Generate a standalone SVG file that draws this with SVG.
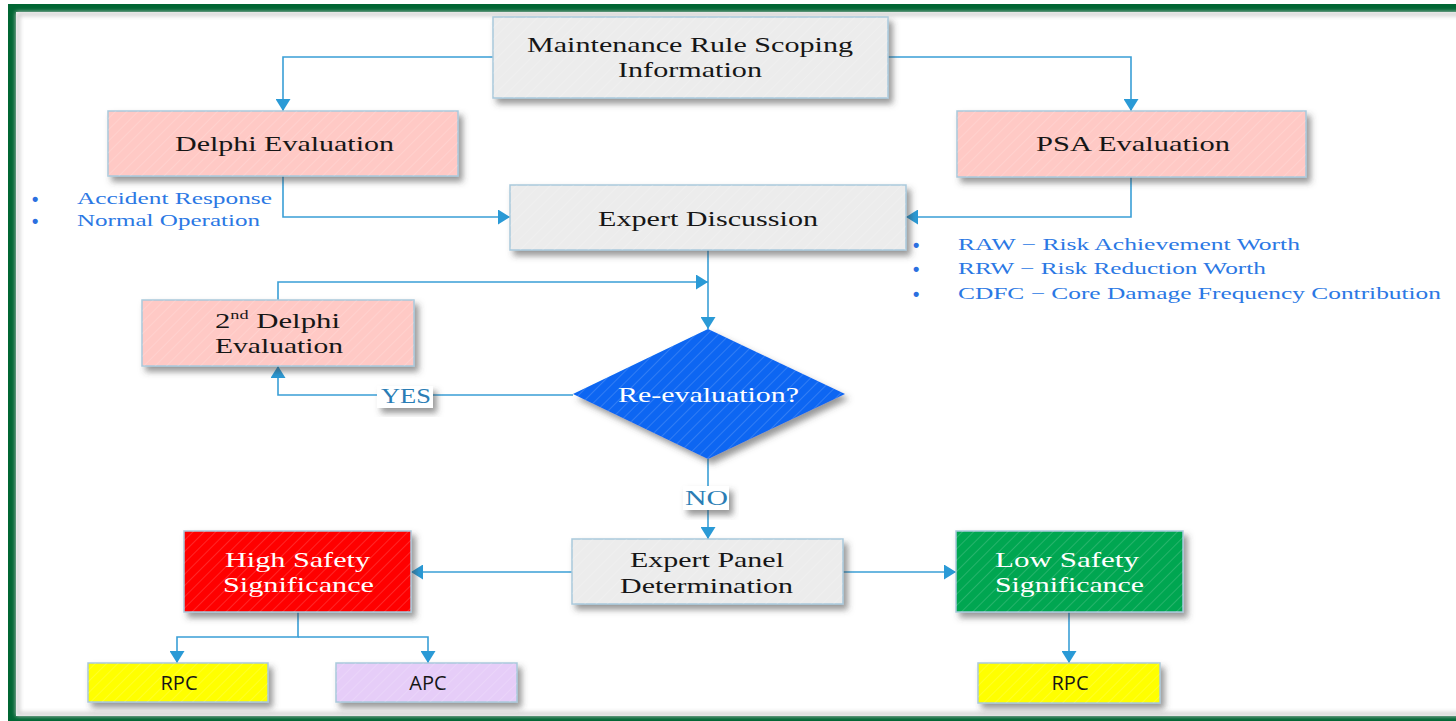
<svg xmlns="http://www.w3.org/2000/svg" width="1456" height="721" viewBox="0 0 1456 721">
<defs>
<style>
.lbl{font-family:"Liberation Serif","Times New Roman",serif;font-size:22px;fill:#161616}
.wlbl{font-family:"Liberation Serif","Times New Roman",serif;font-size:22px;fill:#ffffff}
.bul{font-family:"Liberation Serif","Times New Roman",serif;font-size:17px;fill:#2b78e4}
.dot{font-family:"Liberation Sans",Arial,sans-serif;font-size:18px;font-weight:bold;fill:#2b6fe0}
.yn{font-family:"Liberation Serif","Times New Roman",serif;font-size:21px;fill:#2a7db5}
.sans{font-family:"Open Sans","DejaVu Sans",sans-serif;font-size:20px;fill:#161616}
.conn{fill:none;stroke:#3a9fd6;stroke-width:1.6}
.box{stroke:#a9c9dc;stroke-width:1.5}
</style>
<filter id="sh" x="-10%" y="-20%" width="130%" height="160%">
<feDropShadow dx="4" dy="5" stdDeviation="3" flood-color="#444" flood-opacity="0.55"/>
</filter>
<filter id="blur"><feGaussianBlur stdDeviation="2"/></filter>
<pattern id="hatch" width="8" height="8" patternUnits="userSpaceOnUse" patternTransform="rotate(45)">
<line x1="0" y1="0" x2="0" y2="8" stroke="#ffffff" stroke-width="1.5" stroke-opacity="0.2"/>
</pattern>
<marker id="arr" markerUnits="userSpaceOnUse" markerWidth="14" markerHeight="15" refX="12" refY="7.5" orient="auto">
<path d="M0,0 L12,7.5 L0,15 z" fill="#2a9ad6"/>
</marker>
</defs>
<rect x="0" y="0" width="1456" height="721" fill="#ffffff"/>
<rect x="8" y="4" width="1448" height="717" fill="#006633"/>
<rect x="16" y="12" width="1440" height="704" fill="#ffffff"/>
<rect x="18" y="14" width="1450" height="700" fill="none" stroke="#cfcfcf" stroke-width="4" filter="url(#blur)"/>

<g id="connectors">
<path class="conn" d="M493,57 H283 V111" marker-end="url(#arr)"/>
<path class="conn" d="M888,57 H1131 V111" marker-end="url(#arr)"/>
<path class="conn" d="M283,176 V217 H510" marker-end="url(#arr)"/>
<path class="conn" d="M1131,177 V217 H906" marker-end="url(#arr)"/>
<path class="conn" d="M708,250 V329" marker-end="url(#arr)"/>
<path class="conn" d="M278,300 V282 H708" marker-end="url(#arr)"/>
<path class="conn" d="M573,395 H278 V366" marker-end="url(#arr)"/>
<path class="conn" d="M708,459 V539" marker-end="url(#arr)"/>
<path class="conn" d="M572,572 H411" marker-end="url(#arr)"/>
<path class="conn" d="M843,572 H956" marker-end="url(#arr)"/>
<path class="conn" d="M298,612 V637 H177 V663" marker-end="url(#arr)"/>
<path class="conn" d="M298,637 H428 V663" marker-end="url(#arr)"/>
<path class="conn" d="M1069,612 V663" marker-end="url(#arr)"/>
<rect x="377" y="386" width="56" height="22" fill="#ffffff" filter="url(#sh)"/>
<text class="yn" x="381" y="403" textLength="50" lengthAdjust="spacingAndGlyphs">YES</text>
<rect x="683" y="486" width="46" height="24" fill="#ffffff" filter="url(#sh)"/>
<text class="yn" x="685" y="505" textLength="43" lengthAdjust="spacingAndGlyphs">NO</text>
</g>

<g id="maintenance">
<rect class="box" x="493" y="17" width="395" height="81" fill="#ececec" filter="url(#sh)"/>
<rect x="493" y="17" width="395" height="81" fill="url(#hatch)"/>
<text class="lbl" x="527" y="52" textLength="326" lengthAdjust="spacingAndGlyphs">Maintenance Rule Scoping</text>
<text class="lbl" x="618" y="77" textLength="144" lengthAdjust="spacingAndGlyphs">Information</text>
</g>

<g id="delphi">
<rect class="box" x="108" y="111" width="350" height="65" fill="#ffc9c5" filter="url(#sh)"/>
<rect x="108" y="111" width="350" height="65" fill="url(#hatch)"/>
<text class="lbl" x="175" y="151" textLength="219" lengthAdjust="spacingAndGlyphs">Delphi Evaluation</text>
</g>

<g id="psa">
<rect class="box" x="957" y="111" width="349" height="66" fill="#ffc9c5" filter="url(#sh)"/>
<rect x="957" y="111" width="349" height="66" fill="url(#hatch)"/>
<text class="lbl" x="1036" y="151" textLength="194" lengthAdjust="spacingAndGlyphs">PSA Evaluation</text>
</g>

<g id="delphi-notes">
<text class="dot" x="32" y="205">•</text>
<text class="bul" x="77" y="204" textLength="195" lengthAdjust="spacingAndGlyphs">Accident Response</text>
<text class="dot" x="32" y="227">•</text>
<text class="bul" x="77" y="226" textLength="183" lengthAdjust="spacingAndGlyphs">Normal Operation</text>
</g>

<g id="expert-discussion">
<rect class="box" x="510" y="185" width="396" height="65" fill="#ececec" filter="url(#sh)"/>
<rect x="510" y="185" width="396" height="65" fill="url(#hatch)"/>
<text class="lbl" x="598" y="226" textLength="220" lengthAdjust="spacingAndGlyphs">Expert Discussion</text>
</g>

<g id="psa-notes">
<text class="dot" x="913" y="251">•</text>
<text class="bul" x="958" y="250" textLength="342" lengthAdjust="spacingAndGlyphs">RAW − Risk Achievement Worth</text>
<text class="dot" x="913" y="275">•</text>
<text class="bul" x="958" y="274" textLength="308" lengthAdjust="spacingAndGlyphs">RRW − Risk Reduction Worth</text>
<text class="dot" x="913" y="300">•</text>
<text class="bul" x="958" y="299" textLength="483" lengthAdjust="spacingAndGlyphs">CDFC −  Core Damage Frequency Contribution</text>
</g>

<g id="second-delphi">
<rect class="box" x="142" y="300" width="272" height="66" fill="#ffc9c5" filter="url(#sh)"/>
<rect x="142" y="300" width="272" height="66" fill="url(#hatch)"/>
<text class="lbl" x="215" y="328" textLength="125" lengthAdjust="spacingAndGlyphs">2<tspan font-size="13" dy="-9">nd</tspan><tspan dy="9"> Delphi</tspan></text>
<text class="lbl" x="215" y="353" textLength="128" lengthAdjust="spacingAndGlyphs">Evaluation</text>
</g>

<g id="reevaluation">
<polygon points="708,329 845,394 708,459 573,394" fill="#0866f2" filter="url(#sh)"/>
<polygon points="708,329 845,394 708,459 573,394" fill="url(#hatch)"/>
<text class="wlbl" x="618" y="402" textLength="181" lengthAdjust="spacingAndGlyphs">Re-evaluation?</text>
</g>

<g id="expert-panel">
<rect class="box" x="572" y="539" width="271" height="65" fill="#ececec" filter="url(#sh)"/>
<rect x="572" y="539" width="271" height="65" fill="url(#hatch)"/>
<text class="lbl" x="630" y="567" textLength="154" lengthAdjust="spacingAndGlyphs">Expert Panel</text>
<text class="lbl" x="620" y="593" textLength="173" lengthAdjust="spacingAndGlyphs">Determination</text>
</g>

<g id="high-safety">
<rect class="box" x="184" y="531" width="227" height="81" fill="#ff0000" filter="url(#sh)"/>
<rect x="184" y="531" width="227" height="81" fill="url(#hatch)"/>
<text class="wlbl" x="225" y="567" textLength="145" lengthAdjust="spacingAndGlyphs">High Safety</text>
<text class="wlbl" x="223" y="592" textLength="151" lengthAdjust="spacingAndGlyphs">Significance</text>
</g>

<g id="low-safety">
<rect class="box" x="956" y="531" width="227" height="81" fill="#00a651" filter="url(#sh)"/>
<rect x="956" y="531" width="227" height="81" fill="url(#hatch)"/>
<text class="wlbl" x="995" y="567" textLength="144" lengthAdjust="spacingAndGlyphs">Low Safety</text>
<text class="wlbl" x="995" y="592" textLength="149" lengthAdjust="spacingAndGlyphs">Significance</text>
</g>

<g id="rpc-high">
<rect class="box" x="88" y="663" width="180" height="39" fill="#ffff00" filter="url(#sh)"/>
<rect x="88" y="663" width="180" height="39" fill="url(#hatch)"/>
<text class="sans" x="179" y="690" text-anchor="middle">RPC</text>
</g>

<g id="apc">
<rect class="box" x="336" y="663" width="181" height="39" fill="#e6cdf8" filter="url(#sh)"/>
<rect x="336" y="663" width="181" height="39" fill="url(#hatch)"/>
<text class="sans" x="428" y="690" text-anchor="middle">APC</text>
</g>

<g id="rpc-low">
<rect class="box" x="978" y="663" width="182" height="40" fill="#ffff00" filter="url(#sh)"/>
<rect x="978" y="663" width="182" height="40" fill="url(#hatch)"/>
<text class="sans" x="1070" y="690" text-anchor="middle">RPC</text>
</g>
</svg>
